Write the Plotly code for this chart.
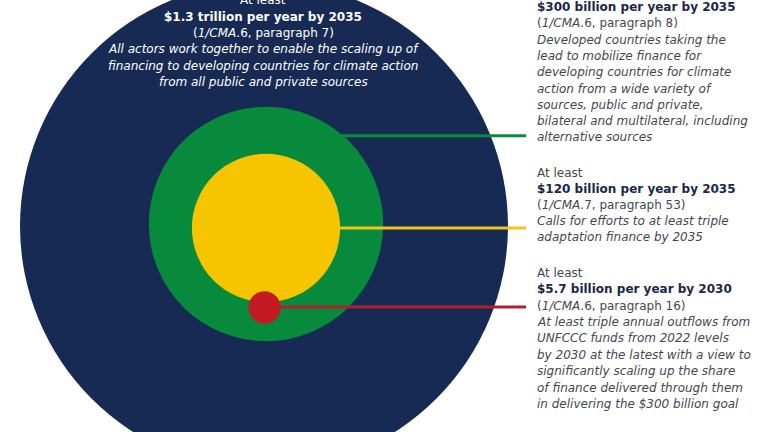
import math
import plotly.graph_objects as go

# ---- data ----
amounts_bn = [1300, 300, 120, 5.7]          # goal size, USD billion per year
lead_in = ["At least", "At least", "At least", "At least"]
headlines = [
    "$1.3 trillion per year by 2035",
    "$300 billion per year by 2035",
    "$120 billion per year by 2035",
    "$5.7 billion per year by 2030",
]
references = [
    "(1/CMA.6, paragraph 7)",
    "(1/CMA.6, paragraph 8)",
    "(1/CMA.7, paragraph 53)",
    "(1/CMA.6, paragraph 16)",
]
descriptions = [
    ["All actors work together to enable the scaling up of",
     "financing to developing countries for climate action",
     "from all public and private sources"],
    ["Developed countries taking the",
     "lead to mobilize finance for",
     "developing countries for climate",
     "action from a wide variety of",
     "sources, public and private,",
     "bilateral and multilateral, including",
     "alternative sources"],
    ["Calls for efforts to at least triple",
     "adaptation finance by 2035"],
    ["At least triple annual outflows from",
     "UNFCCC funds from 2022 levels",
     "by 2030 at the latest with a view to",
     "significantly scaling up the share",
     "of finance delivered through them",
     "in delivering the $300 billion goal"],
]

# ---- styling / layout ----
W, H = 768, 432
fill_colors = ["#172a54", "#078a3c", "#f6c500", "#c41a22"]
line_colors = ["#078a3c", "#f2c417", "#b3202c"]
centers = [(264, 226), (266, 224), (266, 228), (264.5, 307.5)]
scale = 244 / math.sqrt(amounts_bn[0])   # area proportional to amount
radii = [scale * math.sqrt(v) for v in amounts_bn]
leader_y = [135.7, 228, 307]
leader_end = 526
text_x = [263, 535, 535, 535]
first_line_y = [0.4, -9.3, 172.7, 272.7]
line_step = [16.3, 16.3, 16.1, 16.4]
FONT = "DejaVu Sans"
FS = 12

shapes = []
def circle(i):
    cx, cy = centers[i]
    r = radii[i]
    return dict(type="circle", xref="x", yref="y", x0=cx - r, x1=cx + r,
                y0=cy - r, y1=cy + r, fillcolor=fill_colors[i],
                line=dict(width=0), layer="above")

shapes.append(circle(0))
for i in range(1, 4):
    cx, cy = centers[i]
    shapes.append(dict(type="line", xref="x", yref="y", x0=cx, x1=leader_end,
                       y0=leader_y[i - 1], y1=leader_y[i - 1],
                       line=dict(color=line_colors[i - 1], width=3), layer="above"))
    shapes.append(circle(i))

fig = go.Figure()
fig.add_trace(go.Scatter(x=[0, W], y=[0, H], mode="markers",
                         marker=dict(opacity=0), hoverinfo="skip", showlegend=False))

annotations = []
for i in range(4):
    if i == 0:
        gray = "#ffffff"
        bold = "#ffffff"
    else:
        gray = "#45474f"
        bold = "#1a2747"
    lines = [(lead_in[i], gray),
             (f"<b>{headlines[i]}</b>", bold),
             (references[i].replace('1/CMA', '<i>1/CMA</i>', 1), gray)]
    lines += [(f"<i>{d}</i>", gray) for d in descriptions[i]]
    for k, (txt, col) in enumerate(lines):
        py = first_line_y[i] + k * line_step[i]
        annotations.append(dict(
            x=text_x[i], y=1 - py / H, xref="x", yref="paper",
            text=txt, showarrow=False,
            xanchor="center" if i == 0 else "left", yanchor="middle",
            align="center" if i == 0 else "left",
            font=dict(family=FONT, size=FS, color=col)))

fig.update_layout(
    width=W, height=H, margin=dict(l=0, r=0, t=0, b=0),
    paper_bgcolor="white", plot_bgcolor="white",
    xaxis=dict(range=[0, W], visible=False, fixedrange=True),
    yaxis=dict(range=[H, 0], visible=False, fixedrange=True),
    shapes=shapes, annotations=annotations, showlegend=False,
)
fig.write_html("out.html")
